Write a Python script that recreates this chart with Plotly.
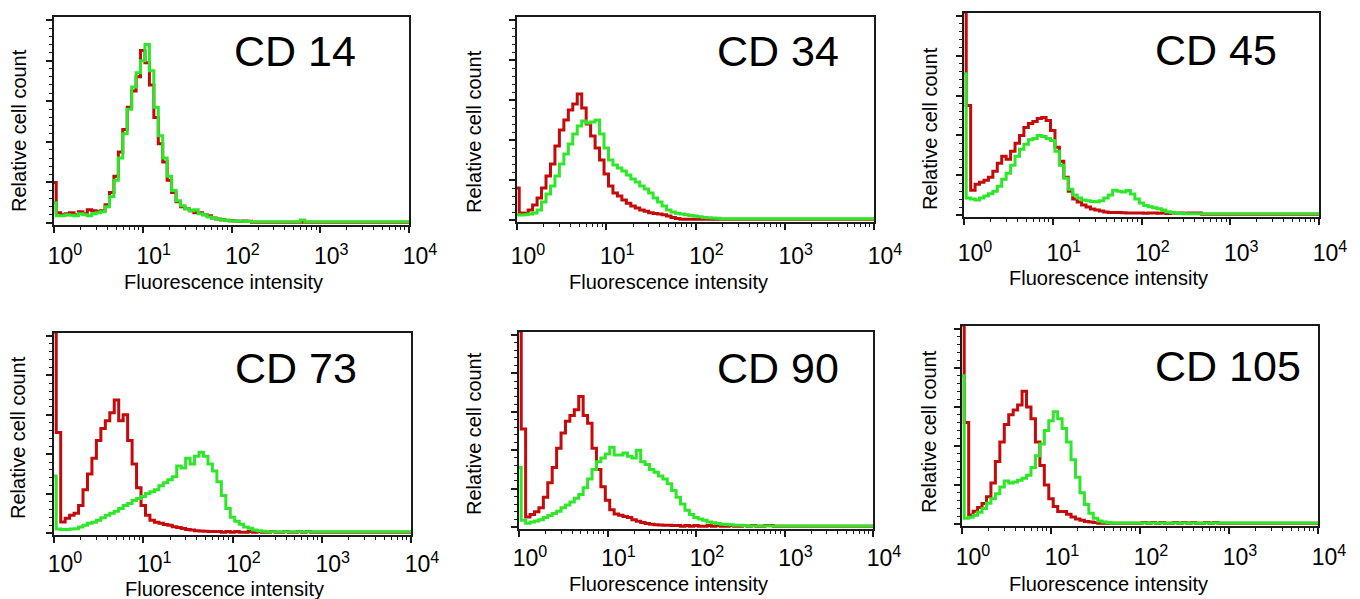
import plotly.graph_objects as go

# ---------------- data ----------------
# channel grid: 20 channels per decade, 10^0 ... 10^4
CHANNEL_STEP = 0.05
N_CHANNELS = 81
channels = [10 ** (i * CHANNEL_STEP) for i in range(N_CHANNELS)]

MARKERS = ["CD 14", "CD 34", "CD 45", "CD 73", "CD 90", "CD 105"]
X_TICK_VALUES = [1, 10, 100, 1000, 10000]
X_TICK_LABELS = ["10<sup>0</sup>", "10<sup>1</sup>", "10<sup>2</sup>", "10<sup>3</sup>", "10<sup>4</sup>"]
Y_TICK_VALUES = [0, 20, 40, 60, 80, 100]
X_TITLE = "Fluorescence intensity"
Y_TITLE = "Relative cell count"

# relative counts (0-100 scale), isotype control (red) and stained (green)
CD14_CONTROL = [20, 5, 4, 4.5, 5, 4, 5.5, 4.5, 6.5, 6, 5.5, 6, 9, 15, 23, 35, 46, 57, 65, 72,
                85, 79, 68, 52, 39, 30, 21, 15, 10.5, 8, 7, 6, 5, 5, 4, 3.5, 2.5, 2, 1.6, 1.3,
                1.1, 1.0, 0.9, 1.0, 0.8, 0.4, 0.4, 0.4, 0.4, 0.4, 0.4, 0.4, 0.4, 0.4, 0.4, 0.4, 0.4, 0.4, 0.4, 0.4,
                0.4, 0.4, 0.4, 0.4, 0.4, 0.4, 0.4, 0.4, 0.4, 0.4, 0.4, 0.4, 0.4, 0.4, 0.4, 0.4, 0.4, 0.4, 0.4, 0.4,
                0.4]
CD14_STAINED = [10, 3.5, 3.5, 4, 3.8, 3.5, 4.5, 4, 3.6, 4.6, 5, 5.5, 8, 13, 21, 32, 44, 56, 67, 74,
                80, 88, 75, 57, 43, 32, 23, 16, 11, 8.5, 7, 6, 6.5, 4.5, 4, 3, 2.5, 2, 1.5, 1.2,
                1.0, 1.0, 0.9, 0.8, 0.7, 0.6, 0.6, 0.6, 0.6, 0.6, 0.6, 0.6, 0.6, 0.6, 0.6, 0.6, 1.5, 0.6, 0.6, 0.6,
                0.6, 0.6, 0.6, 0.6, 0.6, 0.6, 0.6, 0.6, 0.6, 0.6, 0.6, 0.6, 0.6, 0.6, 0.6, 0.6, 0.6, 0.6, 0.6, 0.6,
                0.6]

CD34_CONTROL = [16, 3.5, 3.4, 5, 7.5, 11, 16, 22, 28, 37, 45, 50, 55, 58, 63, 56, 48, 42, 36, 30,
                23, 17, 13.5, 12, 10, 8.4, 7, 6, 5, 4.4, 3.6, 3.2, 3, 2.6, 2, 1.2, 0.8, 0.4, 0.4, 0.4,
                0.4, 0.4, 0.4, 0.4, 0.4, 0.4, 0.4, 0.4, 0.4, 0.4, 0.4, 0.4, 0.4, 0.4, 0.4, 0.4, 0.4, 0.4, 0.4, 0.4,
                0.4, 0.4, 0.4, 0.4, 0.4, 0.4, 0.4, 0.4, 0.4, 0.4, 0.4, 0.4, 0.4, 0.4, 0.4, 0.4, 0.4, 0.4, 0.4, 0.4,
                0.4]
CD34_STAINED = [2.6, 2.5, 2.6, 3, 3.5, 5, 9, 13, 17, 22, 28, 33, 38, 43, 47, 49.5, 48.5, 49, 50, 43,
                36, 30, 27.5, 26, 24.5, 22.5, 20.5, 19, 17, 15.5, 13.5, 11, 9, 7, 5, 4, 3.4, 3, 2.6, 2.3,
                2, 1.6, 1.3, 1.1, 1.0, 0.9, 0.6, 0.6, 0.6, 0.6, 0.6, 0.6, 0.6, 0.6, 0.6, 0.6, 0.6, 0.6, 0.6, 0.6,
                0.6, 0.6, 0.6, 0.6, 0.6, 0.6, 0.6, 0.6, 0.6, 0.6, 0.6, 0.6, 0.6, 0.6, 0.6, 0.6, 0.6, 0.6, 0.6, 0.6,
                0.6]

CD45_CONTROL = [102, 55, 12.5, 15.5, 16.5, 17.5, 19, 22, 26, 29.5, 28, 32, 36, 40, 44, 46, 47, 48.5, 49, 47.5,
                42.5, 34, 27, 19, 12, 8, 6.5, 5, 4, 3, 2.5, 2, 1.5, 1.3, 1.2, 1.2, 1.1, 1.0, 1.0, 1.0,
                1.0, 0.9, 1.0, 1.0, 0.9, 1.0, 0.8, 1.0, 0.9, 1.0, 0.9, 1.0, 1.0, 1.0, 0.4, 0.4, 0.4, 0.4, 0.4, 0.4,
                0.4, 0.4, 0.4, 0.4, 0.4, 0.4, 0.4, 0.4, 0.4, 0.4, 0.4, 0.4, 0.4, 0.4, 0.4, 0.4, 0.4, 0.4, 0.4, 0.4,
                0.4]
CD45_STAINED = [71, 8.5, 8, 7.5, 8.5, 9.5, 10.7, 12, 14.5, 18, 21, 25, 29.5, 33, 35.5, 37.8, 38.5, 40, 39.5, 38.5,
                37.5, 32, 25, 18.5, 13, 10, 8.5, 7.5, 7.2, 6.8, 6.6, 7.2, 8.5, 10, 12.5, 12, 11.5, 12.3, 10.5, 8,
                6, 4.8, 4.2, 3.6, 3.2, 2.5, 1.7, 1.3, 0.9, 0.8, 0.6, 0.6, 0.6, 0.6, 0.6, 0.6, 0.6, 0.6, 0.6, 0.6,
                0.6, 0.6, 0.6, 0.6, 0.6, 0.6, 0.6, 0.6, 0.6, 0.6, 0.6, 0.6, 0.6, 0.6, 0.6, 0.6, 0.6, 0.6, 0.6, 0.6,
                0.6]

CD73_CONTROL = [102, 51, 5.6, 7.5, 9, 10, 14, 22, 30, 38, 47, 53, 57, 61, 67.5, 57, 60, 47, 35, 23,
                14, 9, 6.5, 5.5, 5, 4.3, 4, 3.2, 2.8, 2.3, 1.8, 1.5, 1.2, 1.0, 0.9, 0.8, 0.8, 0.8, 0.4, 0.8,
                0.4, 0.8, 0.4, 0.4, 0.8, 0.4, 0.8, 0.4, 0.4, 0.8, 0.4, 0.4, 0.8, 0.4, 0.4, 0.8, 0.4, 0.8, 0.4, 0.4,
                0.4, 0.4, 0.4, 0.4, 0.4, 0.4, 0.4, 0.4, 0.4, 0.4, 0.4, 0.4, 0.4, 0.4, 0.4, 0.4, 0.4, 0.4, 0.4, 0.4,
                0.4]
CD73_STAINED = [29, 2, 1.8, 1.8, 2, 2.2, 3, 4, 5, 5.5, 6.5, 7.8, 9, 10, 11, 12.5, 14, 15, 16.5, 17.5,
                18.5, 20, 21, 22, 24, 25.5, 27, 28.5, 34, 33, 38, 35, 39, 41, 39, 35, 31.5, 26, 19, 12.5,
                8, 6, 4.5, 3, 2.4, 1.6, 1.2, 0.9, 0.6, 0.6, 0.6, 0.6, 0.6, 0.6, 0.6, 0.6, 0.6, 0.6, 0.6, 0.6,
                0.6, 0.6, 0.6, 0.6, 0.6, 0.6, 0.6, 0.6, 0.6, 0.6, 0.6, 0.6, 0.6, 0.6, 0.6, 0.6, 0.6, 0.6, 0.6, 0.6,
                0.6]

CD90_CONTROL = [102, 51, 5.3, 6.5, 8, 10, 15.5, 23, 31, 41, 49, 55, 58, 61, 68, 58, 54, 41, 30, 21,
                14, 9, 6.8, 6.2, 5.5, 5, 3.8, 3, 2.4, 1.9, 1.5, 1.2, 1.1, 1.0, 0.9, 0.8, 0.8, 0.4, 0.8, 0.4,
                0.8, 0.4, 0.4, 0.8, 0.4, 0.8, 0.4, 0.4, 0.8, 0.4, 0.4, 0.8, 0.4, 0.8, 0.4, 0.4, 0.8, 0.8, 0.4, 0.4,
                0.4, 0.4, 0.4, 0.4, 0.4, 0.4, 0.4, 0.4, 0.4, 0.4, 0.4, 0.4, 0.4, 0.4, 0.4, 0.4, 0.4, 0.4, 0.4, 0.4,
                0.4]
CD90_STAINED = [31, 3.6, 2, 2.7, 3.2, 3.8, 5, 6, 7, 8.2, 10, 11.5, 13, 15, 17, 20.5, 25, 30, 34, 36,
                38, 41.5, 37.5, 37.5, 38.5, 36.8, 36, 40, 34, 32.6, 30, 28.5, 26.6, 25, 22.5, 19, 15.5, 12, 8.7, 6.5,
                5, 4.2, 3.5, 2.6, 2.2, 1.8, 1.5, 1.4, 1.2, 1.0, 0.9, 0.8, 0.6, 0.6, 0.6, 0.6, 0.6, 0.6, 0.6, 0.6,
                0.6, 0.6, 0.6, 0.6, 0.6, 0.6, 0.6, 0.6, 0.6, 0.6, 0.6, 0.6, 0.6, 0.6, 0.6, 0.6, 0.6, 0.6, 0.6, 0.6,
                0.6]

CD105_CONTROL = [102, 52, 4.7, 6.5, 8.5, 10.5, 14, 21, 32, 42, 51, 56, 58.5, 61, 68, 60, 54, 42, 30, 20,
                 13, 9, 6.4, 6.4, 5, 3.6, 2.6, 2, 1.3, 1.0, 0.8, 0.4, 0.4, 0.4, 0.4, 0.4, 0.4, 0.4, 0.4, 0.4,
                 0.4, 0.8, 0.4, 0.8, 0.4, 0.8, 0.4, 0.4, 0.8, 0.4, 0.8, 0.4, 0.8, 0.4, 0.4, 0.8, 0.4, 0.8, 0.4, 0.4,
                 0.4, 0.4, 0.4, 0.4, 0.4, 0.4, 0.4, 0.4, 0.4, 0.4, 0.4, 0.4, 0.4, 0.4, 0.4, 0.4, 0.4, 0.4, 0.4, 0.4,
                 0.4]
CD105_STAINED = [76, 3, 3.5, 4.5, 6, 8, 10.6, 13, 15.5, 19, 22, 21, 21.5, 22.5, 23.5, 25, 29, 35, 41, 48,
                 53, 57.5, 54, 49, 42, 33, 24, 16, 10, 5.5, 3, 1.6, 1.0, 0.8, 0.6, 0.6, 0.6, 0.6, 0.6, 0.6,
                 0.6, 0.6, 0.6, 0.6, 0.6, 0.6, 0.6, 0.6, 0.6, 0.6, 0.6, 0.6, 0.6, 0.6, 0.6, 0.6, 0.6, 0.6, 0.6, 0.6,
                 0.6, 0.6, 0.6, 0.6, 0.6, 0.6, 0.6, 0.6, 0.6, 0.6, 0.6, 0.6, 0.6, 0.6, 0.6, 0.6, 0.6, 0.6, 0.6, 0.6,
                 0.6]

CONTROLS = [CD14_CONTROL, CD34_CONTROL, CD45_CONTROL, CD73_CONTROL, CD90_CONTROL, CD105_CONTROL]
STAINED = [CD14_STAINED, CD34_STAINED, CD45_STAINED, CD73_STAINED, CD90_STAINED, CD105_STAINED]

# ---------------- layout / style ----------------
W, H = 1360, 599
OFF = 8  # page body margin of the html page
FONT = "Liberation Sans, Arial, Helvetica, sans-serif"
RED = "#c40a0a"
GREEN = "#2ee62a"

# plot boxes in page pixels: left, right, top, bottom
BOXES = [(54, 409, 17, 225), (517, 874, 17, 222), (964, 1319, 13, 217),
         (54, 411, 333, 535), (519, 873, 332, 529), (962, 1318, 326, 526)]
# marker label centres (page px)
LABEL_POS = [(295, 51), (778, 51), (1216, 50), (296, 368), (778, 368), (1228, 366)]
YTITLE_POS = [(19, 131), (474, 132), (930, 129), (18, 438), (474, 434), (929, 432)]
XTITLE_POS = [(223, 282), (668, 282), (1108, 278), (224, 589), (668, 584), (1108, 584)]
TICK_STANDOFF = [4, 7, 9, 2, 2, 4]


def fx(px):
    return (px - OFF) / W


def fy(py):
    return 1 - (py - OFF) / H


minor_log = [k * 10 ** d for d in range(4) for k in range(2, 10)]

fig = go.Figure()
annotations = []
for i in range(6):
    n = i + 1
    xa = "x" if n == 1 else f"x{n}"
    ya = "y" if n == 1 else f"y{n}"
    fig.add_trace(go.Scatter(x=channels, y=CONTROLS[i], mode="lines", line_shape="hvh",
                             line=dict(color=RED, width=3), xaxis=xa, yaxis=ya,
                             showlegend=False, hoverinfo="skip"))
    fig.add_trace(go.Scatter(x=channels, y=STAINED[i], mode="lines", line_shape="hvh",
                             line=dict(color=GREEN, width=3), xaxis=xa, yaxis=ya,
                             showlegend=False, hoverinfo="skip"))
    l, r, t, b = BOXES[i]
    xkey = "xaxis" if n == 1 else f"xaxis{n}"
    ykey = "yaxis" if n == 1 else f"yaxis{n}"
    fig.update_layout(**{
        xkey: dict(domain=[fx(l), fx(r)], anchor=ya, type="log", range=[0, 4], automargin=False,
                   showline=True, mirror=True, linecolor="#1a1a1a", linewidth=1.5,
                   ticks="outside", ticklen=6, tickwidth=1.5, tickcolor="#1a1a1a",
                   tickvals=X_TICK_VALUES, ticktext=X_TICK_LABELS,
                   tickfont=dict(family=FONT, size=23, color="black"),
                   ticklabelstandoff=TICK_STANDOFF[i], ticklabelshift=11,
                   minor=dict(ticks="outside", ticklen=3, tickwidth=1, tickcolor="#1a1a1a",
                              tickvals=minor_log),
                   showgrid=False, zeroline=False, fixedrange=True),
        ykey: dict(domain=[fy(b), fy(t)], anchor=xa, range=[-1, 101.5], automargin=False,
                   showline=True, mirror=True, linecolor="#1a1a1a", linewidth=1.5,
                   ticks="outside", ticklen=6, tickwidth=1.5, tickcolor="#1a1a1a",
                   tickvals=Y_TICK_VALUES, showticklabels=False,
                   minor=dict(ticks="outside", ticklen=3, tickwidth=1, tickcolor="#1a1a1a", dtick=4),
                   showgrid=False, zeroline=False, fixedrange=True),
    })
    lx, ly = LABEL_POS[i]
    annotations.append(dict(text=MARKERS[i], x=fx(lx), y=fy(ly), xref="paper", yref="paper",
                            showarrow=False, xanchor="center", yanchor="middle",
                            font=dict(family=FONT, size=43, color="black")))
    tx, ty = YTITLE_POS[i]
    annotations.append(dict(text=Y_TITLE, x=fx(tx), y=fy(ty), xref="paper", yref="paper",
                            showarrow=False, xanchor="center", yanchor="middle", textangle=-90,
                            font=dict(family=FONT, size=20, color="black")))
    qx, qy = XTITLE_POS[i]
    annotations.append(dict(text=X_TITLE, x=fx(qx), y=fy(qy), xref="paper", yref="paper",
                            showarrow=False, xanchor="center", yanchor="middle",
                            font=dict(family=FONT, size=20, color="black")))

fig.update_layout(width=W, height=H, margin=dict(l=0, r=0, t=0, b=0),
                  paper_bgcolor="white", plot_bgcolor="white",
                  annotations=annotations, showlegend=False)

fig.write_html("out.html")
